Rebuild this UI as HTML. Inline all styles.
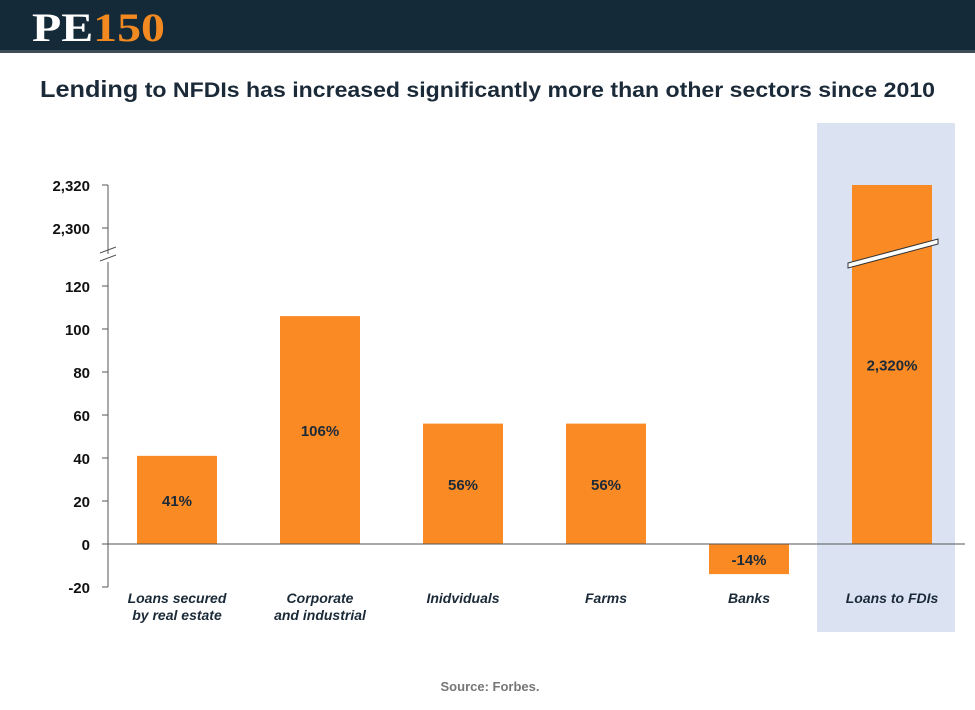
<!DOCTYPE html>
<html><head><meta charset="utf-8"><style>
body{margin:0;width:975px;height:705px;overflow:hidden;background:#fff;font-family:"Liberation Sans",sans-serif;}
</style></head><body>
<svg width="975" height="705" xmlns="http://www.w3.org/2000/svg">
<rect x="0" y="0" width="975" height="50" fill="#142a38"/>
<rect x="0" y="50" width="975" height="3" fill="#3e4d57"/>
<text x="32" y="41" font-family="Liberation Serif,serif" font-weight="bold" font-size="40" textLength="133" lengthAdjust="spacingAndGlyphs"><tspan fill="#fff">PE</tspan><tspan fill="#f28a21">150</tspan></text>
<text x="40" y="97" font-weight="bold" font-size="21" fill="#1b2a38" textLength="895" lengthAdjust="spacingAndGlyphs"><tspan font-size="23">Lending</tspan> to NFDIs has increased significantly more than other sectors since 2010</text>
<rect x="817" y="123" width="138" height="509" fill="#dbe3f3"/>
<g id="axis"></g>
<g id="bars"></g>
<text x="490" y="691" text-anchor="middle" font-weight="bold" font-size="13" fill="#777">Source: Forbes.</text>
</svg>
<script>
const categories=["Loans secured|by real estate","Corporate|and industrial","Inidviduals","Farms","Banks","Loans to FDIs"];
const values=[41,106,56,56,-14,2320];
const labels=["41%","106%","56%","56%","-14%","2,320%"];
const lowTicks=[-20,0,20,40,60,80,100,120];
const highTicks=[2300,2320];
const NS="http://www.w3.org/2000/svg";
const k=2.15;
function yLow(v){return 544-v*k;}
function yHigh(v){return 185+(2320-v)*k;}
function y(v){return v>1000?yHigh(v):yLow(v);}
function xC(i){return 177+i*143;}
function mk(tag,attrs,parent,txt){const e=document.createElementNS(NS,tag);for(const a in attrs)e.setAttribute(a,attrs[a]);if(txt!==undefined)e.textContent=txt;parent.appendChild(e);return e;}
const ax=document.getElementById('axis'),bg=document.getElementById('bars');
const al=mk('line',{x1:108,x2:108,y1:yHigh(2320),y2:254,stroke:'#555','stroke-width':1},ax);


const al2=mk('line',{x1:108,x2:108,y1:262,y2:yLow(-20),stroke:'#555','stroke-width':1},ax);


[[250],[258]].forEach(([yy])=>{const b=mk('line',{x1:100,x2:116,y1:yy+3,y2:yy-3,stroke:'#555','stroke-width':1},ax);

});
function tick(v,yy){
 const t=mk('line',{x1:102,x2:108,y1:yy,y2:yy,stroke:'#555'},ax);
 
 
 const l=mk('text',{x:90,y:yy+6,'text-anchor':'end','font-weight':'bold','font-size':15,fill:'#111'},ax,v.toLocaleString('en-US'));
 
 
}
lowTicks.forEach(v=>tick(v,yLow(v)));
highTicks.forEach(v=>tick(v,yHigh(v)));
values.forEach((v,i)=>{
 const top=Math.min(y(v),y(0)),h=Math.abs(y(v)-y(0));
 const r=mk('rect',{x:xC(i)-40,y:top,width:80,height:h,fill:'#fa8a24'},bg);
 
 
 const t=mk('text',{x:xC(i),y:top+h/2+6,'text-anchor':'middle','font-weight':'bold','font-size':15,fill:'#1b2a38'},bg,labels[i]);
 
 
 const parts=categories[i].split('|');
 parts.forEach((p,j)=>{const c=mk('text',{x:xC(i),y:603+j*17,'text-anchor':'middle','font-weight':'bold','font-style':'italic','font-size':14,fill:'#1b2a38'},bg,p);
 
 });
 if(v>1000){
  const bb=mk('polygon',{points:(xC(i)-44)+','+263+' '+(xC(i)+46)+','+239+' '+(xC(i)+46)+','+244+' '+(xC(i)-44)+','+268,fill:'#fff',stroke:'#333','stroke-width':1},bg);
  
  
 }
});
const z=mk('line',{x1:108,x2:965,y1:yLow(0),y2:yLow(0),stroke:'#555'},bg);


</script>
</body></html>
